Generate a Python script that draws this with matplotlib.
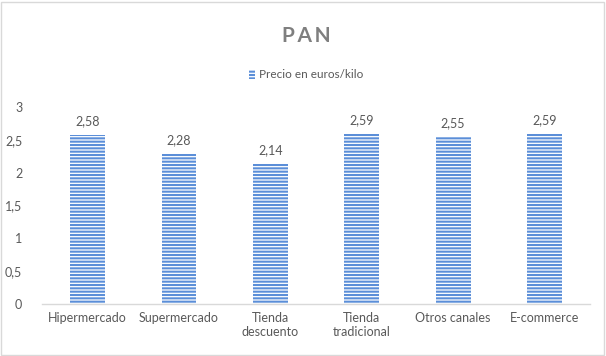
import matplotlib.pyplot as plt
from matplotlib.patches import Rectangle

# Data
categories = ["Hipermercado", "Supermercado", "Tienda\ndescuento",
              "Tienda\ntradicional", "Otros canales", "E-commerce"]
precios = [2.58, 2.28, 2.14, 2.59, 2.55, 2.59]
labels = ["2,58", "2,28", "2,14", "2,59", "2,55", "2,59"]
yticks = [0, 0.5, 1, 1.5, 2, 2.5, 3]
ytick_labels = ["0", "0,5", "1", "1,5", "2", "2,5", "3"]

plt.rcParams["font.family"] = ["Lato", "DejaVu Sans"]
plt.rcParams["hatch.linewidth"] = 1.5
text_color = "#595959"
bar_color = "#5b8ed8"

fig = plt.figure(figsize=(6.06, 3.56), dpi=100)
ax = fig.add_axes([0.069, 0.146, 0.905, 0.553])

# Chart border
fig.patches.append(Rectangle((0.002, 0.003), 0.994, 0.992, transform=fig.transFigure,
                             fill=False, edgecolor="#d9d9d9", linewidth=1))

x = range(len(categories))
bars = ax.bar(x, precios, width=0.38, color="white", edgecolor=bar_color,
              hatch="-----", linewidth=0, label="Precio en euros/kilo")

for xi, v, lab in zip(x, precios, labels):
    ax.text(xi, v + 0.12, lab, ha="center", va="bottom", fontsize=9, color=text_color)

ax.set_ylim(0, 3)
ax.set_xlim(-0.5, len(categories) - 0.5)
ax.set_yticks(yticks)
ax.set_yticklabels(ytick_labels)
ax.set_xticks(list(x))
ax.set_xticklabels(categories)
ax.tick_params(axis="both", length=0, labelsize=9, colors=text_color)
ax.tick_params(axis="y", pad=14)
ax.tick_params(axis="x", pad=6)

for s in ["top", "right", "left"]:
    ax.spines[s].set_visible(False)
ax.spines["bottom"].set_color("#d9d9d9")
ax.spines["bottom"].set_linewidth(1)

fig.text(0.505, 0.9, "P\u2009A\u2009N", ha="center", va="center", fontsize=15,
         fontweight="bold", color="#7f7f7f")

leg = fig.legend(handles=[bars], loc="center", bbox_to_anchor=(0.505, 0.79),
                 frameon=False, fontsize=8.5, handlelength=0.5, handleheight=0.8,
                 handletextpad=0.3)
for t in leg.get_texts():
    t.set_color(text_color)

fig.savefig("out.png", dpi=100)
